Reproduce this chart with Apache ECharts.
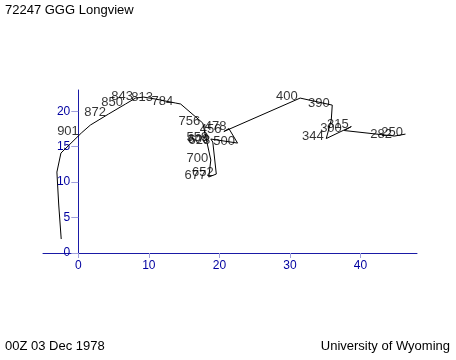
<!DOCTYPE html>
<html>
<head>
<meta charset="utf-8">
<script src="https://cdn.jsdelivr.net/npm/echarts@6/dist/echarts.min.js"></script>
<style>html,body{margin:0;padding:0;background:#fff}#c{width:456px;height:360px}</style>
</head>
<body>
<div id="c"></div>
<script>
// Hodograph points (u, v in knots) from surface upward, with pressure labels
var windU = [-2.42, -2.77, -3.03, -2.46, 0.43, 1.71, 4.27, 6.69, 8.11, 9.25, 10.95, 13.80, 14.51, 17.64, 18.78, 18.49, 19.56, 19.06, 18.92, 18.78, 22.57, 21.34, 20.63, 31.44, 35.99, 35.85, 35.14, 38.69, 37.70, 44.81, 46.37];
var windV = [1.97, 6.77, 11.42, 14.10, 16.93, 18.05, 19.60, 21.02, 21.86, 22.00, 21.72, 21.16, 21.02, 18.34, 13.12, 10.72, 11.14, 15.66, 15.80, 16.08, 15.51, 17.56, 17.14, 21.86, 20.87, 18.76, 16.15, 17.84, 17.28, 16.50, 16.78];
var levelLabels = ['', '', '', '', '901', '', '872', '850', '843', '', '813', '784', '', '756', '700', '677', '652', '628', '600', '559', '500', '478', '456', '400', '390', '', '344', '315', '300', '282', '250'];
var xTicks = [0, 10, 20, 30, 40];
var yTicks = [0, 5, 10, 15, 20];
var titleText = '72247 GGG Longview';
var dateText = '00Z 03 Dec 1978';
var sourceText = 'University of Wyoming';

var pts = windU.map(function (u, i) { return [u, windV[i]]; });
var labelPts = [];
windU.forEach(function (u, i) {
  if (levelLabels[i]) labelPts.push({ value: [u, windV[i]], name: levelLabels[i] });
});

var FONT = 'Liberation Sans, Arial, Helvetica, sans-serif';
var axisBlue = '#1a1aa6';
var tickBlue = '#a0a0dc';
var titleStyle = { fontFamily: FONT, fontSize: 13, fontWeight: 'normal', color: '#000' };

var chart = echarts.init(document.getElementById('c'), null, { renderer: 'canvas' });
chart.setOption({
  animation: false,
  backgroundColor: '#ffffff',
  title: [
    { text: titleText, left: 5, top: 4, padding: 0, textStyle: titleStyle },
    { text: dateText, left: 5, top: 340, padding: 0, textStyle: titleStyle },
    { text: sourceText, right: 6, top: 340, padding: 0, textStyle: titleStyle }
  ],
  grid: { left: 43, right: 39, top: 90, bottom: 107, containLabel: false },
  xAxis: {
    type: 'value', min: -5, max: 48,
    splitLine: { show: false },
    axisLine: { onZero: true, lineStyle: { color: axisBlue, width: 1 } },
    axisTick: { show: true, length: 5, customValues: xTicks, lineStyle: { color: tickBlue } },
    axisLabel: { customValues: xTicks, color: '#0000a0', fontFamily: FONT, fontSize: 12, margin: 7 }
  },
  yAxis: {
    type: 'value', min: 0, max: 23,
    splitLine: { show: false },
    axisLine: { onZero: true, lineStyle: { color: axisBlue, width: 1 } },
    axisTick: { show: true, length: 7, customValues: yTicks, lineStyle: { color: tickBlue } },
    axisLabel: { customValues: yTicks, color: '#0000a0', fontFamily: FONT, fontSize: 12, margin: 8 }
  },
  series: [
    {
      type: 'line', data: pts, symbol: 'none', smooth: false,
      lineStyle: { color: '#000', width: 1 }, z: 3
    },
    {
      type: 'scatter', data: labelPts, symbolSize: 1,
      itemStyle: { color: 'rgba(0,0,0,0)' },
      label: {
        show: true, position: 'left', distance: 0, offset: [-2, -2],
        formatter: function (p) { return p.name; },
        color: '#000', fontFamily: FONT, fontSize: 13
      },
      z: 4
    }
  ]
});
// y-axis labels stay at the grid edge; shift them next to the zero-positioned axis line
var zeroX = chart.convertToPixel({ xAxisIndex: 0 }, 0);
chart.setOption({ yAxis: { axisLabel: { margin: 8 - (zeroX - 43) } } });
</script>
</body>
</html>
